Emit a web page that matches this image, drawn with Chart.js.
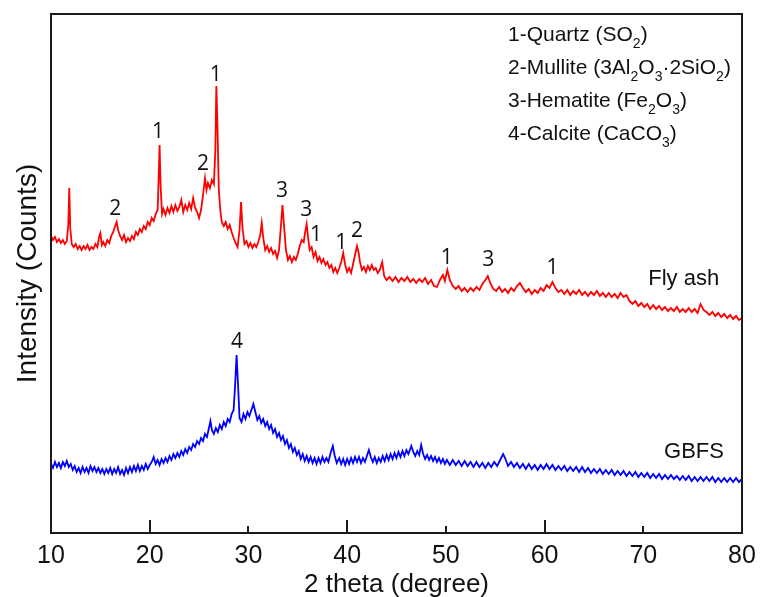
<!DOCTYPE html>
<html>
<head>
<meta charset="utf-8">
<script src="https://cdn.jsdelivr.net/npm/chart.js@4.4.1/dist/chart.umd.min.js"></script>
<style>
  body { margin: 0; background: #fff; }
</style>
</head>
<body>
<canvas id="xrdChart" width="761" height="597"></canvas>
<script>
// Fly ash pattern (2 theta, counts)
var flyAngle = [
  10.0,10.2,10.4,10.6,10.8,11.0,11.2,11.4,11.6,
  11.75,11.85,11.95,
  12.1,12.3,12.5,12.7,12.9,13.1,13.3,13.5,13.7,13.9,14.1,14.3,14.5,14.7,
  14.9,15.0,15.15,
  15.3,15.5,15.7,15.9,16.1,16.3,
  16.5,16.65,16.8,
  17.0,17.2,17.4,17.6,17.8,18.0,18.2,18.4,18.6,18.8,19.0,19.2,19.4,19.6,19.8,20.0,20.2,20.4,20.6,20.8,
  20.9,21.0,21.1,21.25,
  21.4,21.6,21.8,22.0,22.2,22.4,22.6,22.8,23.0,23.2,23.4,23.6,23.8,24.0,24.2,24.4,24.6,24.8,25.0,25.2,
  25.4,25.6,25.75,25.9,26.1,26.3,26.5,26.65,26.75,26.85,27.0,27.15,
  27.3,27.5,27.7,27.9,28.1,28.3,28.5,28.7,28.9,29.1,
  29.25,29.4,
  29.6,29.8,30.0,30.2,30.4,30.6,30.8,31.0,31.2,
  31.35,31.5,
  31.7,31.9,32.1,32.3,32.5,32.7,32.9,33.1,33.3,
  33.45,33.6,
  33.8,34.0,34.2,34.4,34.6,34.8,35.0,35.2,35.4,35.6,
  35.75,35.9,36.05,
  36.2,36.4,36.6,36.8,37.0,37.2,37.4,37.6,37.8,38.0,38.2,38.4,38.6,38.8,39.0,39.2,39.4,39.6,39.8,40.0,40.2,40.4,40.6,40.8,41.0,
  41.15,
  41.3,41.5,41.7,41.9,42.1,42.3,42.5,42.7,42.9,43.1,43.3,
  43.55,43.75,
  44.0,44.3,44.6,44.9,45.2,45.5,45.8,46.1,46.4,46.7,47.0,47.3,47.6,47.9,48.2,48.5,48.8,49.1,49.4,49.7,
  49.9,50.15,
  50.4,50.7,51.0,51.3,51.6,51.9,52.2,52.5,52.8,53.1,53.4,53.7,54.0,
  54.25,
  54.5,54.8,55.1,55.4,55.7,56.0,56.3,56.6,56.9,57.2,57.5,57.8,58.1,58.4,58.7,59.0,59.3,59.6,59.9,60.2,
  60.5,60.8,61.1,61.4,61.7,62.0,62.3,62.6,62.9,63.2,63.5,63.8,64.1,64.4,64.7,65.0,65.3,65.6,65.9,66.2,
  66.5,66.8,67.1,67.4,67.7,68.0,68.3,68.6,68.9,69.2,69.5,69.8,70.1,70.4,70.7,71.0,71.3,71.6,71.9,72.2,
  72.5,72.8,73.1,73.4,73.7,74.0,74.3,74.6,74.9,75.2,75.5,75.8,76.1,76.4,76.7,77.0,77.3,77.6,77.9,78.2,
  78.5,78.8,79.1,79.4,79.7,80.0
];
var flyCounts = [
  297,293,296,291,294,290,293,289,292,
  308,345,305,
  289,286,289,284,287,283,287,284,288,283,286,284,289,286,
  297,300,288,
  291,287,293,290,297,301,
  307,311,303,
  297,293,298,291,295,292,297,294,301,298,304,301,307,304,311,308,315,312,319,323,
  353,388,348,319,
  324,318,325,320,327,321,328,322,326,333,321,328,323,330,324,335,325,321,315,323,
  338,355,343,350,345,353,349,383,447,413,343,323,
  311,307,311,304,308,301,295,290,286,303,
  331,305,
  289,292,286,290,285,289,286,291,298,
  310,295,
  283,287,281,285,279,282,275,283,308,
  328,308,
  283,273,277,271,276,273,279,287,293,291,
  301,309,295,
  283,286,276,281,272,276,270,274,268,271,265,268,261,265,260,265,271,280,268,261,265,260,269,278,287,
  281,
  271,263,266,261,267,263,268,263,265,260,263,
  271,257,
  253,256,252,256,251,255,252,256,251,254,250,254,251,255,249,253,247,246,253,258,
  252,263,
  253,247,244,247,242,245,241,245,242,246,243,249,253,
  257,
  250,244,242,246,241,244,240,245,242,247,250,245,241,244,239,243,240,245,242,248,
  245,251,245,241,243,239,243,238,242,239,243,238,241,237,241,238,242,237,240,236,
  240,236,239,235,240,236,238,232,229,232,227,230,226,229,224,228,224,227,223,226,
  222,225,222,226,221,224,221,225,221,224,220,229,223,221,218,221,217,220,216,219,
  215,218,214,217,213,215
];

// GBFS pattern (2 theta, counts)
var gbfsAngle = [
  10.0,10.2,10.4,10.6,10.8,11.0,11.2,11.4,11.6,11.8,
  12.0,12.2,12.4,12.6,12.8,13.0,13.2,13.4,13.6,13.8,
  14.0,14.2,14.4,14.6,14.8,15.0,15.2,15.4,15.6,15.8,
  16.0,16.2,16.4,16.6,16.8,17.0,17.2,17.4,17.6,17.8,
  18.0,18.2,18.4,18.6,18.8,19.0,19.2,19.4,19.6,19.8,
  20.0,20.2,20.4,20.6,20.8,21.0,21.2,21.4,21.6,21.8,
  22.0,22.2,22.4,22.6,22.8,23.0,23.2,23.4,23.6,23.8,
  24.0,24.2,24.4,24.6,24.8,25.0,25.2,25.4,25.6,25.8,
  26.0,26.15,26.3,
  26.5,26.7,26.9,27.1,27.3,27.5,27.7,27.9,28.1,28.3,28.5,
  28.65,28.8,28.95,
  29.1,29.3,29.5,29.7,29.9,30.1,30.3,30.5,30.7,30.9,
  31.1,31.3,31.5,31.7,31.9,32.1,32.3,32.5,32.7,32.9,
  33.1,33.3,33.5,33.7,33.9,34.1,34.3,34.5,34.7,34.9,
  35.1,35.3,35.5,35.7,35.9,36.1,36.3,36.5,36.7,36.9,
  37.1,37.3,37.5,37.7,37.9,38.1,
  38.35,38.55,38.75,38.95,
  39.2,39.4,39.6,39.8,40.0,40.2,40.4,40.6,40.8,41.0,
  41.2,41.4,41.6,41.8,42.0,42.2,42.4,42.6,42.8,43.0,
  43.2,43.4,43.6,43.8,44.0,44.2,44.4,44.6,44.8,45.0,
  45.2,45.4,45.6,45.8,46.0,46.2,
  46.5,46.7,46.9,47.1,47.3,47.5,
  47.7,47.9,48.1,48.3,48.5,48.7,48.9,49.1,49.3,49.5,49.7,49.9,50.1,
  50.4,50.7,51.0,51.3,51.6,51.9,52.2,52.5,52.8,53.1,53.4,53.7,54.0,54.3,54.6,54.9,55.2,55.5,
  55.8,56.0,
  56.3,56.6,56.9,57.2,57.5,57.8,58.1,58.4,58.7,59.0,
  59.3,59.6,59.9,60.2,60.5,60.8,61.1,61.4,61.7,62.0,
  62.3,62.6,62.9,63.2,63.5,63.8,64.1,64.4,64.7,65.0,
  65.3,65.6,65.9,66.2,66.5,66.8,67.1,67.4,67.7,68.0,
  68.3,68.6,68.9,69.2,69.5,69.8,70.1,70.4,70.7,71.0,
  71.3,71.6,71.9,72.2,72.5,72.8,73.1,73.4,73.7,74.0,
  74.3,74.6,74.9,75.2,75.5,75.8,76.1,76.4,76.7,77.0,
  77.3,77.6,77.9,78.2,78.5,78.8,79.1,79.4,79.7,80.0
];
var gbfsCounts = [
  69,65,71,66,70,65,71,67,72,66,
  69,63,67,61,65,60,66,61,65,60,
  67,62,66,61,65,60,64,59,64,60,
  65,59,64,60,66,59,63,58,65,60,
  66,61,67,62,68,62,67,63,69,64,
  68,71,76,69,73,68,74,70,75,71,
  77,73,79,75,80,76,82,78,84,80,
  86,83,89,86,92,89,95,92,99,96,
  105,112,103,
  99,105,101,108,104,111,107,114,111,119,123,
  148,178,148,
  115,111,119,114,121,117,123,129,121,113,
  117,110,114,107,111,104,108,100,104,96,
  100,93,97,89,93,85,89,81,85,78,
  82,74,79,72,77,71,76,70,75,69,
  75,70,76,71,75,71,
  81,87,77,70,
  75,69,74,68,74,69,75,70,76,71,
  76,70,75,71,77,83,76,71,76,70,
  75,71,77,72,78,73,79,74,80,75,
  81,76,82,77,83,79,
  87,81,77,82,78,88,
  79,74,78,73,77,72,76,71,75,70,74,69,73,
  68,73,68,72,67,72,67,71,66,71,66,70,65,70,66,71,67,73,
  79,75,
  67,71,66,70,65,69,64,69,64,68,
  63,68,64,69,64,68,63,67,63,67,
  62,66,62,66,61,66,61,65,60,64,
  60,64,59,63,59,63,58,62,58,62,
  57,61,57,61,56,60,56,60,55,59,
  55,59,54,58,54,58,54,57,53,57,
  53,57,52,56,52,56,52,56,52,56,
  51,55,51,55,51,55,51,55,51,54
];

var xTicks = [10, 20, 30, 40, 50, 60, 70, 80];
var longTicks = [20, 40, 60];
var shortTicks = [30, 50, 70];

// peak markers
var flyPeakAngle = [16.5, 20.85, 25.4, 26.7, 33.4, 35.85, 36.85, 39.4, 41.0, 50.1, 54.3, 60.8];
var flyPeakCount = [324, 401, 369, 458, 342, 323, 298, 290, 302, 275, 273, 265];
var flyPeakText  = ['2', '1', '2', '1', '3', '3', '1', '1', '2', '1', '3', '1'];
var gbfsPeakAngle = [28.85];
var gbfsPeakCount = [191];
var gbfsPeakText  = ['4'];

// phase key, [text, isSubscript]
var phaseKey = [
  [['1-Quartz (SO', 0], ['2', 1], [')', 0]],
  [['2-Mullite (3Al', 0], ['2', 1], ['O', 0], ['3', 1], ['\u00b72SiO', 0], ['2', 1], [')', 0]],
  [['3-Hematite (Fe', 0], ['2', 1], ['O', 0], ['3', 1], [')', 0]],
  [['4-Calcite (CaCO', 0], ['3', 1], [')', 0]]
];

var FONT = '"Liberation Sans", Arial, sans-serif';

function toPoints(xs, ys) {
  return xs.map(function (v, i) { return {x: v, y: ys[i]}; });
}

var decorations = {
  id: 'decorations',
  afterDraw: function (chart) {
    var ctx = chart.ctx, a = chart.chartArea;
    var x = chart.scales.x, y = chart.scales.y;
    ctx.save();

    // frame and inward ticks
    ctx.strokeStyle = '#1a1a1a';
    ctx.lineWidth = 2;
    ctx.strokeRect(a.left, a.top, a.right - a.left, a.bottom - a.top);
    ctx.beginPath();
    longTicks.forEach(function (v) {
      var px = Math.round(x.getPixelForValue(v));
      ctx.moveTo(px, a.bottom); ctx.lineTo(px, a.bottom - 13);
    });
    shortTicks.forEach(function (v) {
      var px = Math.round(x.getPixelForValue(v));
      ctx.moveTo(px, a.bottom); ctx.lineTo(px, a.bottom - 7);
    });
    ctx.stroke();

    // peak numbers
    ctx.fillStyle = '#111';
    ctx.font = '21px "Open Sans", ' + FONT;
    ctx.textAlign = 'center';
    ctx.textBaseline = 'middle';
    flyPeakAngle.forEach(function (v, i) {
      ctx.fillText(flyPeakText[i], x.getPixelForValue(v), y.getPixelForValue(flyPeakCount[i]));
    });
    gbfsPeakAngle.forEach(function (v, i) {
      ctx.fillText(gbfsPeakText[i], x.getPixelForValue(v), y.getPixelForValue(gbfsPeakCount[i]));
    });

    // sample names
    ctx.font = '22px ' + FONT;
    ctx.textAlign = 'left';
    ctx.fillText('Fly ash', x.getPixelForValue(70.5), y.getPixelForValue(254));
    ctx.fillText('GBFS', x.getPixelForValue(72.1), y.getPixelForValue(81));

    // phase key with subscripts
    ctx.textBaseline = 'alphabetic';
    phaseKey.forEach(function (line, row) {
      var px = a.left + 457;
      var py = a.top + 27 + row * 33;
      line.forEach(function (part) {
        ctx.font = (part[1] ? '14px ' : '21px ') + FONT;
        ctx.fillText(part[0], px, part[1] ? py + 7 : py);
        px += ctx.measureText(part[0]).width;
      });
    });
    ctx.restore();
  }
};

var ctx = document.getElementById('xrdChart').getContext('2d');
var xrdChart = new Chart(ctx, {
  type: 'line',
  data: {
    datasets: [{
      label: 'Fly ash',
      data: toPoints(flyAngle, flyCounts),
      borderColor: '#ff0000',
      borderWidth: 1.8,
      pointRadius: 0,
      tension: 0
    }, {
      label: 'GBFS',
      data: toPoints(gbfsAngle, gbfsCounts),
      borderColor: '#0000ff',
      borderWidth: 1.8,
      pointRadius: 0,
      tension: 0
    }]
  },
  options: {
    responsive: false,
    animation: false,
    layout: { padding: { top: 14, right: 19, left: 0, bottom: 0 } },
    plugins: { legend: { display: false }, tooltip: { enabled: false } },
    scales: {
      x: {
        type: 'linear',
        min: 10,
        max: 80,
        afterFit: function (s) { s.height = 64; s.paddingLeft = 0; s.paddingRight = 0; },
        afterBuildTicks: function (s) { s.ticks = xTicks.map(function (v) { return {value: v}; }); },
        ticks: { color: '#111', padding: 8, maxRotation: 0, font: { family: FONT, size: 25 } },
        grid: { display: false, drawTicks: false },
        border: { display: false },
        title: {
          display: true, text: '2 theta (degree)', color: '#111',
          font: { family: FONT, size: 26, lineHeight: 0.9 },
          padding: { top: 0, bottom: 0 }
        }
      },
      y: {
        min: 0,
        max: 519,
        afterFit: function (s) { s.width = 51; },
        ticks: { display: false },
        grid: { display: false, drawTicks: false },
        border: { display: false },
        title: {
          display: true, text: 'Intensity (Counts)', color: '#111',
          font: { family: FONT, size: 28 },
          padding: { top: 11, bottom: 0 }
        }
      }
    }
  },
  plugins: [decorations]
});
</script>
</body>
</html>
